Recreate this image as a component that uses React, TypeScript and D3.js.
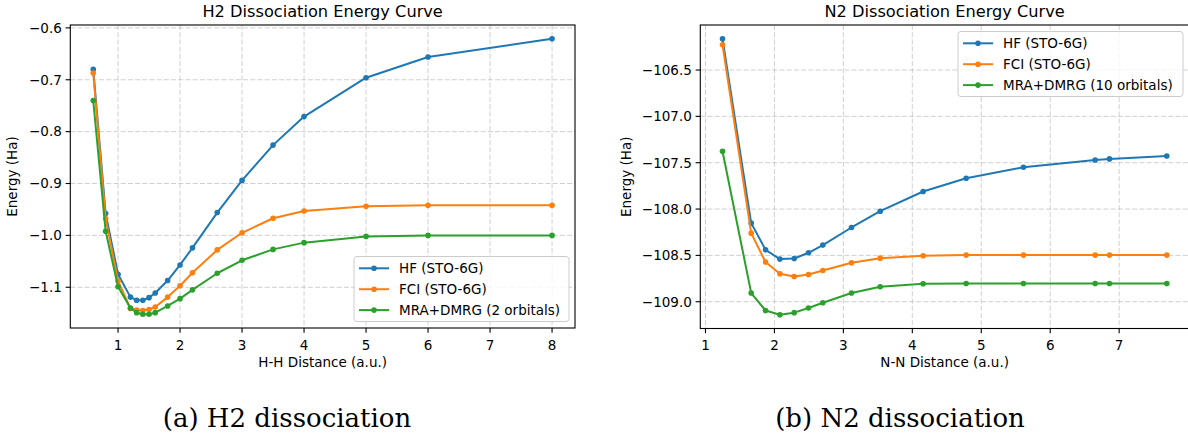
import React from "react";
import * as d3 from "d3";

// H2 curve (a.u.)
const h2Dist = [0.6, 0.8, 1.0, 1.2, 1.3, 1.4, 1.5, 1.6, 1.8, 2.0, 2.2, 2.6, 3.0, 3.5, 4.0, 5.0, 6.0, 8.0];
const h2HF = [-0.68, -0.958, -1.075, -1.119, -1.125, -1.125, -1.12, -1.111, -1.087, -1.057, -1.024, -0.956, -0.894, -0.826, -0.771, -0.696, -0.656, -0.621];
const h2FCI = [-0.687, -0.968, -1.088, -1.141, -1.144, -1.145, -1.143, -1.138, -1.119, -1.097, -1.072, -1.028, -0.995, -0.967, -0.953, -0.944, -0.942, -0.942];
const h2MRA = [-0.74, -0.992, -1.099, -1.14, -1.149, -1.152, -1.152, -1.149, -1.136, -1.122, -1.105, -1.073, -1.048, -1.027, -1.014, -1.002, -1.0, -1.0];

// N2 curve (a.u.)
const n2Dist = [1.247, 1.663, 1.871, 2.079, 2.287, 2.494, 2.702, 3.118, 3.534, 4.157, 4.781, 5.612, 6.652, 6.86, 7.691];
const n2HF = [-106.163, -108.152, -108.44, -108.54, -108.533, -108.472, -108.389, -108.199, -108.023, -107.811, -107.667, -107.549, -107.47, -107.459, -107.427];
const n2FCI = [-106.227, -108.26, -108.572, -108.698, -108.727, -108.706, -108.663, -108.58, -108.53, -108.504, -108.497, -108.497, -108.497, -108.497, -108.497];
const n2MRA = [-107.376, -108.906, -109.094, -109.14, -109.118, -109.068, -109.011, -108.906, -108.838, -108.806, -108.803, -108.803, -108.803, -108.803, -108.803];

const h2Labels = ["HF (STO-6G)", "FCI (STO-6G)", "MRA+DMRG (2 orbitals)"];
const n2Labels = ["HF (STO-6G)", "FCI (STO-6G)", "MRA+DMRG (10 orbitals)"];
const h2XTicks = [1, 2, 3, 4, 5, 6, 7, 8];
const h2YTicks = [-0.6, -0.7, -0.8, -0.9, -1.0, -1.1];
const n2XTicks = [1, 2, 3, 4, 5, 6, 7];
const n2YTicks = [-106.5, -107.0, -107.5, -108.0, -108.5, -109.0];

const colors = ["#1f77b4", "#ff7f0e", "#2ca02c"];
const FONT = "DejaVu Sans, sans-serif";
const fmt = (v: number) => (v < 0 ? "\u2212" : "") + Math.abs(v).toFixed(1);

const pad = (ext: number[]) => {
  const m = (ext[1] - ext[0]) * 0.05;
  return [ext[0] - m, ext[1] + m];
};

function Panel({ box, xs, series, labels, xTicks, yTicks, title, xLabel, legendPos, caption, yLabelX }: any) {
  const { left, right, top, bottom } = box;
  const all = series.flat();
  const x = d3.scaleLinear().domain(pad(d3.extent(xs) as number[])).range([left, right]);
  const y = d3.scaleLinear().domain(pad(d3.extent(all) as number[])).range([bottom, top]);
  const line = d3.line<number>().x((_, i) => x(xs[i])).y((d) => y(d));
  const cx = (left + right) / 2;

  // legend box
  const lw = legendPos.w, lh = 65;
  const lx = legendPos.corner === "lr" ? right - 6 - lw : right - 6 - lw;
  const ly = legendPos.corner === "lr" ? bottom - 6.5 - lh : top + 6.5;

  return (
    <g fontFamily={FONT}>
      {/* grid */}
      {xTicks.map((t: number) => (
        <line key={"gx" + t} x1={x(t)} x2={x(t)} y1={top} y2={bottom} stroke="#b0b0b0" strokeOpacity={0.6} strokeDasharray="5,2.2" />
      ))}
      {yTicks.map((t: number) => (
        <line key={"gy" + t} x1={left} x2={right} y1={y(t)} y2={y(t)} stroke="#b0b0b0" strokeOpacity={0.6} strokeDasharray="5,2.2" />
      ))}
      {/* series */}
      {series.map((s: number[], k: number) => (
        <g key={"s" + k}>
          <path d={line(s) || ""} fill="none" stroke={colors[k]} strokeWidth={2} strokeLinejoin="round" />
          {s.map((v, i) => (
            <circle key={i} cx={x(xs[i])} cy={y(v)} r={2.8} fill={colors[k]} />
          ))}
        </g>
      ))}
      {/* spines */}
      <rect x={left} y={top} width={right - left} height={bottom - top} fill="none" stroke="#000" strokeWidth={1.1} />
      {/* ticks */}
      {xTicks.map((t: number) => (
        <g key={"tx" + t}>
          <line x1={x(t)} x2={x(t)} y1={bottom} y2={bottom + 4.7} stroke="#000" strokeWidth={1.1} />
          <text x={x(t)} y={bottom + 21.5} fontSize={13.5} textAnchor="middle" fill="#000">{t}</text>
        </g>
      ))}
      {yTicks.map((t: number) => (
        <g key={"ty" + t}>
          <line x1={left - 4.7} x2={left} y1={y(t)} y2={y(t)} stroke="#000" strokeWidth={1.1} />
          <text x={left - 8.5} y={y(t)} dy="0.36em" fontSize={13.5} textAnchor="end" fill="#000">{fmt(t)}</text>
        </g>
      ))}
      {/* labels */}
      <text x={cx} y={16.7} fontSize={16.2} textAnchor="middle" fill="#000">{title}</text>
      <text x={cx} y={367} fontSize={13.5} textAnchor="middle" fill="#000">{xLabel}</text>
      <text transform={`translate(${yLabelX},${(top + bottom) / 2}) rotate(-90)`} fontSize={13.5} textAnchor="middle" fill="#000">Energy (Ha)</text>
      {/* legend */}
      <rect x={lx} y={ly} width={lw} height={lh} rx={3} fill="#fff" fillOpacity={0.8} stroke="#cccccc" strokeWidth={1} />
      {labels.map((lab: string, k: number) => {
        const ry = ly + 11.8 + k * 20.9;
        return (
          <g key={"lg" + k}>
            <line x1={lx + 5} x2={lx + 35} y1={ry} y2={ry} stroke={colors[k]} strokeWidth={2} />
            <circle cx={lx + 20} cy={ry} r={2.8} fill={colors[k]} />
            <text x={lx + 45} y={ry} dy="0.36em" fontSize={13.5} fill="#000">{lab}</text>
          </g>
        );
      })}
      {/* caption */}
      <text x={caption.x} y={427} fontSize={26} fontFamily="DejaVu Serif, serif" textAnchor="middle" fill="#000">{caption.text}</text>
    </g>
  );
}

export default function App() {
  return (
    <svg width={1188} height={436} style={{ position: "absolute", left: 0, top: 0, background: "#fff" }}>
      <rect width={1188} height={436} fill="#fff" />
      <Panel
        box={{ left: 70.3, right: 575, top: 25, bottom: 328 }}
        xs={h2Dist}
        series={[h2HF, h2FCI, h2MRA]}
        labels={h2Labels}
        xTicks={h2XTicks}
        yTicks={h2YTicks}
        title="H2 Dissociation Energy Curve"
        xLabel="H-H Distance (a.u.)"
        legendPos={{ corner: "lr", w: 215 }}
        caption={{ x: 287, text: "(a) H2 dissociation" }}
        yLabelX={17}
      />
      <Panel
        box={{ left: 700.3, right: 1189, top: 25, bottom: 328.5 }}
        xs={n2Dist}
        series={[n2HF, n2FCI, n2MRA]}
        labels={n2Labels}
        xTicks={n2XTicks}
        yTicks={n2YTicks}
        title="N2 Dissociation Energy Curve"
        xLabel="N-N Distance (a.u.)"
        legendPos={{ corner: "ur", w: 225 }}
        caption={{ x: 900, text: "(b) N2 dissociation" }}
        yLabelX={631}
      />
    </svg>
  );
}
